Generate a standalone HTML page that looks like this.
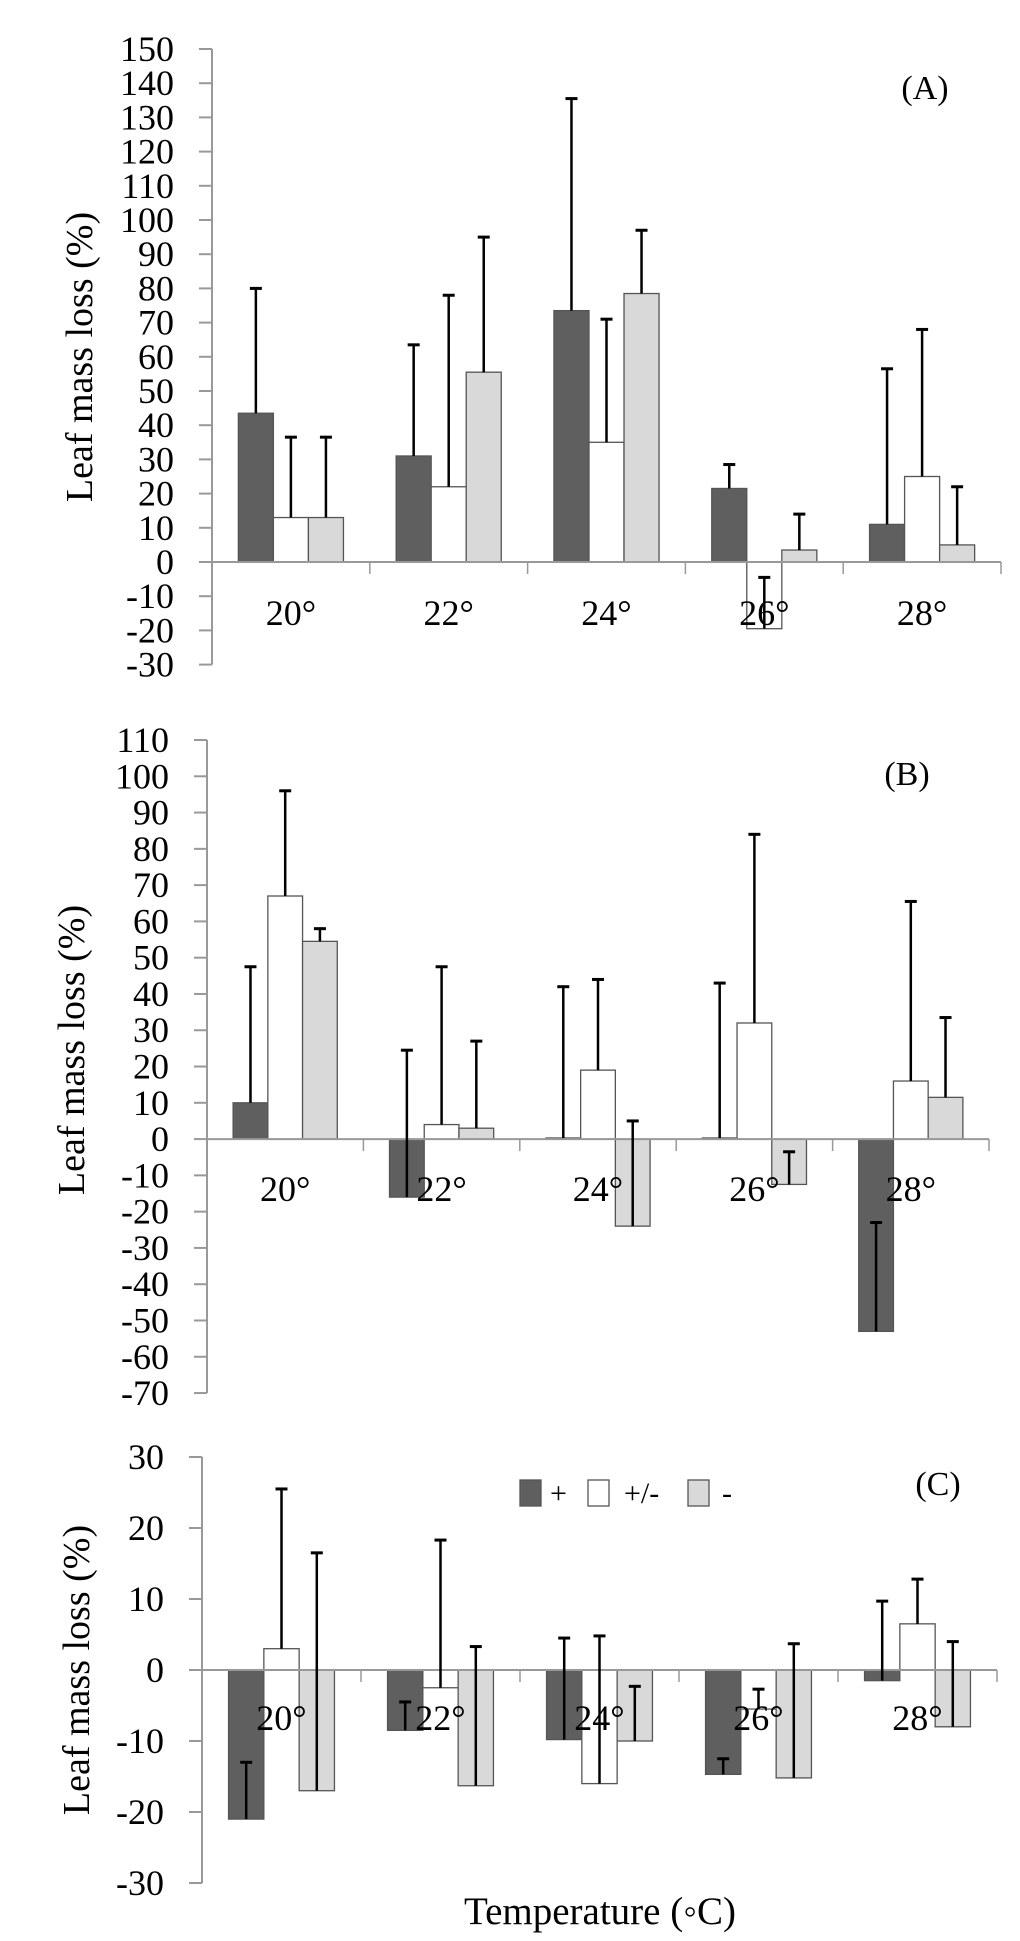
<!DOCTYPE html>
<html><head><meta charset="utf-8">
<style>
html,body{margin:0;padding:0;background:#fff;}
svg{display:block;}
text{font-family:"Liberation Serif",serif;fill:#000;}
</style></head>
<body>
<svg id="chart" width="1020" height="1941" viewBox="0 0 1020 1941" xmlns="http://www.w3.org/2000/svg"></svg>
<script>
const categories = ["20°","22°","24°","26°","28°"];
const seriesNames = ["+","+/-","-"];
// Panel A
const aPlus = [43.5, 31, 73.5, 21.5, 11];
const aMix = [13, 22, 35, -19.5, 25];
const aMinus = [13, 55.5, 78.5, 3.5, 5];
const aPlusErr = [80, 63.5, 135.5, 28.5, 56.5];
const aMixErr = [36.5, 78, 71, -4.5, 68];
const aMinusErr = [36.5, 95, 97, 14, 22];
const aTicks = [150,140,130,120,110,100,90,80,70,60,50,40,30,20,10,0,-10,-20,-30];
// Panel B
const bPlus = [10, -16, 0.3, 0.3, -53];
const bMix = [67, 4, 19, 32, 16];
const bMinus = [54.5, 3, -24, -12.5, 11.5];
const bPlusErr = [47.5, 24.5, 42, 43, -23];
const bMixErr = [96, 47.5, 44, 84, 65.5];
const bMinusErr = [58, 27, 5, -3.5, 33.5];
const bTicks = [110,100,90,80,70,60,50,40,30,20,10,0,-10,-20,-30,-40,-50,-60,-70];
// Panel C
const cPlus = [-21, -8.5, -9.8, -14.7, -1.5];
const cMix = [3, -2.5, -16, -5.5, 6.5];
const cMinus = [-17, -16.3, -10, -15.2, -8];
const cPlusErr = [-13, -4.5, 4.5, -12.5, 9.7];
const cMixErr = [25.5, 18.3, 4.8, -2.7, 12.8];
const cMinusErr = [16.5, 3.3, -2.3, 3.7, 4];
const cTicks = [30,20,10,0,-10,-20,-30];

const colors = ["#5f5f5f","#ffffff","#d9d9d9"];
const NS = "http://www.w3.org/2000/svg";
const svg = document.getElementById("chart");
function el(tag, attrs, parent){
  const e = document.createElementNS(NS, tag);
  for (const k in attrs) e.setAttribute(k, attrs[k]);
  (parent||svg).appendChild(e);
  return e;
}

function panel(cfg){
  const g = el("g", {});
  
  
  const yv = v => cfg.y0 + (cfg.vmax - v) * cfg.pxPerUnit;
  const x0 = cfg.xl, W = (cfg.xr - cfg.xl) / categories.length;
  const bw = W * 0.222, off = (W - 3*bw)/2;
  const zeroY = yv(0);
  const vals = [cfg.plus, cfg.mix, cfg.minus];
  const errs = [cfg.plusErr, cfg.mixErr, cfg.minusErr];
  categories.forEach((c, i) => {
    for (let s = 0; s < 3; s++) {
      const v = vals[s][i];
      const bx = x0 + i*W + off + s*bw;
      const top = Math.min(yv(v), zeroY), h = Math.abs(yv(v) - zeroY);
      const r = el("rect", {x:bx, y:top, width:bw, height:Math.max(h,0.5), fill:colors[s], stroke:"#555", "stroke-width":1.3}, g);
      
      
    }
  });
  const ax = el("line", {x1:cfg.xl, y1:yv(cfg.vmax), x2:cfg.xl, y2:yv(cfg.vmin), stroke:"#999", "stroke-width":2}, g);
  
  
  const xa = el("line", {x1:cfg.xl, y1:zeroY, x2:cfg.xr, y2:zeroY, stroke:"#999", "stroke-width":2}, g);
  
  
  for (let i = 1; i <= categories.length; i++) {
    el("line", {x1:x0+i*W, y1:zeroY, x2:x0+i*W, y2:zeroY+12, stroke:"#999", "stroke-width":1.5}, g);
  }
  cfg.ticks.forEach(t => {
    el("line", {x1:cfg.xl-13, y1:yv(t), x2:cfg.xl, y2:yv(t), stroke:"#999", "stroke-width":2}, g);
    const tx = el("text", {x:cfg.xl-38, y:yv(t)+12, "font-size":36, "text-anchor":"end"}, g);
    tx.textContent = t;
    
    
  });
  categories.forEach((c, i) => {
    const t = el("text", {x:x0 + i*W + W/2, y:cfg.labelY + 12, "font-size":36, "text-anchor":"middle"}, g);
    t.textContent = c;
    
    
  });
  categories.forEach((c, i) => {
    for (let s = 0; s < 3; s++) {
      const cx = x0 + i*W + off + s*bw + bw/2;
      const y1 = yv(vals[s][i]), y2 = yv(errs[s][i]);
      const eg = el("g", {}, g);
      
      
      el("line", {x1:cx, y1:y1, x2:cx, y2:y2, stroke:"#000", "stroke-width":2.5}, eg);
      el("line", {x1:cx-6, y1:y2, x2:cx+6, y2:y2, stroke:"#000", "stroke-width":3}, eg);
    }
  });
  const yt = el("text", {x:0, y:0, "font-size":38, "text-anchor":"middle", transform:`translate(${cfg.titleX},${cfg.titleY}) rotate(-90)`}, g);
  yt.textContent = "Leaf mass loss (%)";
  
  
  const pl = el("text", {x:cfg.tagX, y:cfg.tagY+12, "font-size":34, "text-anchor":"middle"}, g);
  pl.textContent = "(" + cfg.id + ")";
  
  
}

panel({id:"A", xl:212, xr:1001, y0:49, vmax:150, vmin:-30, pxPerUnit:3.42, ticks:aTicks,
  plus:aPlus, mix:aMix, minus:aMinus, plusErr:aPlusErr, mixErr:aMixErr, minusErr:aMinusErr,
  labelY:613, titleX:92, titleY:357, tagX:925, tagY:87});
panel({id:"B", xl:207, xr:989, y0:740, vmax:110, vmin:-70, pxPerUnit:3.628, ticks:bTicks,
  plus:bPlus, mix:bMix, minus:bMinus, plusErr:bPlusErr, mixErr:bMixErr, minusErr:bMinusErr,
  labelY:1189, titleX:84, titleY:1050, tagX:907, tagY:773});
panel({id:"C", xl:202, xr:997, y0:1457, vmax:30, vmin:-30, pxPerUnit:7.1, ticks:cTicks,
  plus:cPlus, mix:cMix, minus:cMinus, plusErr:cPlusErr, mixErr:cMixErr, minusErr:cMinusErr,
  labelY:1718, titleX:89, titleY:1670, tagX:938, tagY:1483});

const lg = el("g", {});


const legX = [520, 588, 688];
const legTX = [550, 624, 722];
seriesNames.forEach((n, s) => {
  const r = el("rect", {x:legX[s], y:1480, width:21, height:26, fill:colors[s], stroke:"#555", "stroke-width":1.3}, lg);
  
  
  const t = el("text", {x:legTX[s], y:1503, "font-size":30}, lg);
  t.textContent = n;
  
  
});
const xt = el("text", {x:600, y:1924, "font-size":39, "text-anchor":"middle"});
xt.textContent = "Temperature (◦C)";


</script>
</body></html>
